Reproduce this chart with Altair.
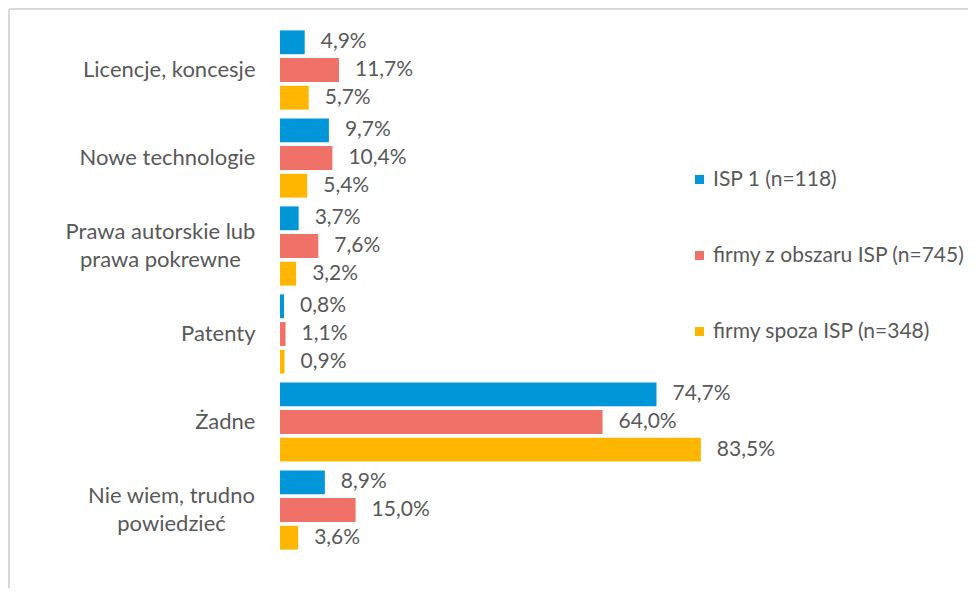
import altair as alt
import pandas as pd

categories = [
    "Licencje, koncesje",
    "Nowe technologie",
    "Prawa autorskie lub\nprawa pokrewne",
    "Patenty",
    "Żadne",
    "Nie wiem, trudno\npowiedzieć",
]
series = ["ISP 1 (n=118)", "firmy z obszaru ISP (n=745)", "firmy spoza ISP (n=348)"]
colors = ["#0096D8", "#F07167", "#FFB600"]
isp1 = [4.9, 9.7, 3.7, 0.8, 74.7, 8.9]
obszar = [11.7, 10.4, 7.6, 1.1, 64.0, 15.0]
spoza = [5.7, 5.4, 3.2, 0.9, 83.5, 3.6]

rows = []
for s, vals in zip(series, [isp1, obszar, spoza]):
    for c, v in zip(categories, vals):
        rows.append({"cat": c, "series": s, "value": v,
                     "label": f"{v:.1f}%".replace(".", ",")})
df = pd.DataFrame(rows)

FONT = "Lato"
TXT = "#595959"
FS = 22
multi = "indexof(datum.value, '\\n') >= 0"
wide = "indexof(datum.value, 'Prawa') == 0"

y_enc = alt.Y("cat:N", sort=categories, title=None,
              scale=alt.Scale(paddingInner=0.1, paddingOuter=0.05),
              axis=alt.Axis(domain=False, ticks=False, labelFont=FONT, labelFontSize=FS,
                            labelColor=TXT, labelLineHeight=28,
                            labelPadding={"expr": f"{multi} ? ({wide} ? 120 : 109) : 25"},
                            labelAlign={"expr": f"{multi} ? 'center' : 'right'"},
                            labelOffset={"expr": f"{multi} ? -14 : 0"},
                            labelExpr="split(datum.label, '\\n')", labelLimit=400))
yoff = alt.YOffset("series:N", sort=series, scale=alt.Scale(paddingInner=0.14, paddingOuter=0))
x_enc = alt.X("value:Q", scale=alt.Scale(domain=[0, 100]), axis=None)

base = alt.Chart(df)
bars = base.mark_bar().encode(
    x=x_enc, y=y_enc, yOffset=yoff,
    color=alt.Color("series:N", sort=series,
                    scale=alt.Scale(domain=series, range=colors),
                    legend=alt.Legend(title=None, orient="none", legendX=409, legendY=143,
                                      symbolType="square", symbolSize=81, symbolStrokeWidth=0,
                                      labelFont=FONT, labelFontSize=21, labelColor=TXT,
                                      rowPadding=54, labelOffset=3, labelLimit=400)),
)
texts = base.mark_text(align="left", baseline="middle", dx=16, font=FONT,
                       fontSize=21, color=TXT).encode(
    x=x_enc, y=alt.Y("cat:N", sort=categories), yOffset=yoff, text="label:N")

frame_df = pd.DataFrame({"a": [0]})
vline = alt.Chart(frame_df).mark_rule(color="#D9D9D9", strokeWidth=2).encode(
    x=alt.value(-271), y=alt.value(-17), y2=alt.value(580))
hline = alt.Chart(frame_df).mark_rule(color="#D9D9D9", strokeWidth=2).encode(
    x=alt.value(-271), x2=alt.value(700), y=alt.value(-17))

chart = alt.layer(vline, hline, bars, texts).properties(
    width=504, height=528, background="white",
    autosize=alt.AutoSizeParams(type="none"),
    padding={"left": 272, "top": 18, "right": 184, "bottom": 34},
).configure_view(strokeWidth=0, stroke=None)

chart.save("out.html", embed_options={"renderer": "svg", "actions": False})
